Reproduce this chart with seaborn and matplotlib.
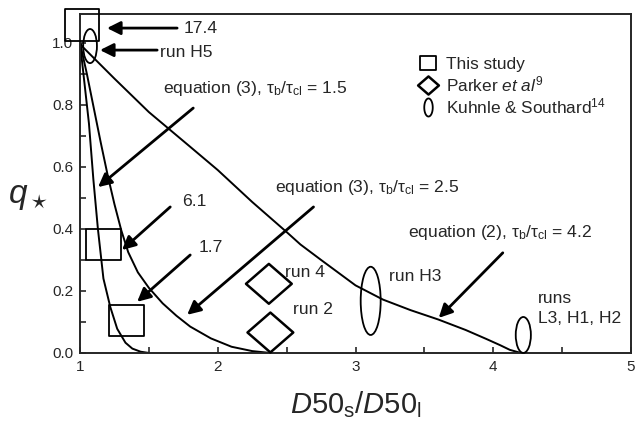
import matplotlib.pyplot as plt
import numpy as np
import pandas as pd
import seaborn as sns
from matplotlib.lines import Line2D
from matplotlib.markers import MarkerStyle
from matplotlib.patches import Ellipse
from matplotlib.path import Path
from matplotlib.ticker import MultipleLocator

# Curves
eq2_x = [1.0, 1.02, 1.25, 1.5, 1.8, 2.0, 2.25, 2.5, 2.6, 2.75, 3.0, 3.2, 3.4, 3.6, 3.8, 3.95, 4.05, 4.12, 4.2]
eq2_q = [1.0, 0.987, 0.885, 0.777, 0.665, 0.59, 0.487, 0.39, 0.35, 0.30, 0.218, 0.172, 0.138, 0.108, 0.074, 0.045, 0.025, 0.01, 0.0]

eq3a_x = [1.0, 1.03, 1.065, 1.097, 1.13, 1.17, 1.22, 1.27, 1.33, 1.38, 1.44, 1.5]
eq3a_q = [1.0, 0.88, 0.74, 0.56, 0.40, 0.24, 0.148, 0.078, 0.033, 0.014, 0.004, 0.0]

eq3b_x = [1.0, 1.05, 1.1, 1.15, 1.2, 1.25, 1.3, 1.35, 1.42, 1.5, 1.6, 1.7, 1.8, 1.95, 2.1, 2.25, 2.38]
eq3b_q = [1.0, 0.9, 0.79, 0.68, 0.575, 0.48, 0.395, 0.325, 0.26, 0.21, 0.16, 0.12, 0.085, 0.047, 0.02, 0.006, 0.0]

# Data points
study_x = [1.015, 1.171, 1.338]
study_q = [1.058, 0.35, 0.105]
parker_x = [2.371, 2.382]
parker_q = [0.223, 0.066]
ks_x = [1.073, 3.11, 4.218]
ks_q = [0.99, 0.168, 0.058]
ks_w = [0.10, 0.145, 0.11]
ks_h = [0.11, 0.22, 0.116]

# Labels and arrows
label_text = ["17.4", "run H5", "equation (3), τ$_\\mathrm{b}$/τ$_\\mathrm{cl}$ = 1.5",
              "equation (3), τ$_\\mathrm{b}$/τ$_\\mathrm{cl}$ = 2.5", "6.1", "1.7",
              "equation (2), τ$_\\mathrm{b}$/τ$_\\mathrm{cl}$ = 4.2", "run 4", "run 2", "run H3",
              "runs", "L3, H1, H2"]
label_x = [1.749, 1.582, 1.604, 2.418, 1.742, 1.858, 3.378, 2.491, 2.549, 3.24, 4.324, 4.324]
label_q = [1.048, 0.970, 0.852, 0.535, 0.487, 0.339, 0.387, 0.261, 0.139, 0.245, 0.177, 0.110]

arrow_tail_x = [1.705, 1.56, 1.822, 2.695, 1.655, 1.80, 4.069]
arrow_tail_q = [1.048, 0.977, 0.790, 0.471, 0.471, 0.316, 0.323]
arrow_head_x = [1.196, 1.145, 1.131, 1.778, 1.305, 1.415, 3.604]
arrow_head_q = [1.048, 0.977, 0.535, 0.123, 0.332, 0.165, 0.113]

sns.set_style("ticks")
plt.rcParams["font.family"] = ["Liberation Sans", "DejaVu Sans"]
plt.rcParams["mathtext.fontset"] = "custom"
plt.rcParams["mathtext.rm"] = "Liberation Sans"
plt.rcParams["mathtext.it"] = "Liberation Sans:italic"
plt.rcParams["mathtext.bf"] = "Liberation Sans:bold"

fig, ax = plt.subplots(figsize=(6.4, 4.32), dpi=100)
fig.subplots_adjust(left=0.125, right=0.986, bottom=0.183, top=0.968)

for cx, cq in [(eq2_x, eq2_q), (eq3a_x, eq3a_q), (eq3b_x, eq3b_q)]:
	sns.lineplot(x=cx, y=cq, sort=False, estimator=None, color="k", lw=1.4, ax=ax)

box = MarkerStyle(Path([(-1.1, -1), (1.1, -1), (1.1, 1), (-1.1, 1), (-1.1, -1)], closed=True))
diamond = MarkerStyle(Path([(-1.15, 0), (0, 1), (1.15, 0), (0, -1), (-1.15, 0)], closed=True))
t = np.linspace(0, 2 * np.pi, 60)
oval = MarkerStyle(Path(np.column_stack([0.47 * np.cos(t), np.sin(t)]), closed=True))

sns.scatterplot(x=study_x, y=study_q, marker=box, s=25 ** 2, facecolor="none", edgecolor="k",
                linewidth=1.3, clip_on=False, zorder=5, ax=ax)
sns.scatterplot(x=parker_x, y=parker_q, marker=diamond, s=33 ** 2, facecolor="none", edgecolor="k",
                linewidth=1.8, clip_on=False, zorder=5, ax=ax)
for ex, eq, ew, eh in zip(ks_x, ks_q, ks_w, ks_h):
	ax.add_patch(Ellipse((ex, eq), ew, eh, fill=False, lw=1.3, ec="k", clip_on=False, zorder=5))

for tx, tq, hx, hq in zip(arrow_tail_x, arrow_tail_q, arrow_head_x, arrow_head_q):
	ax.annotate("", xy=(hx, hq), xytext=(tx, tq),
	            arrowprops=dict(arrowstyle="-|>", mutation_scale=20, lw=2, color="k", shrinkA=0, shrinkB=0))
for txt, lx, lq in zip(label_text, label_x, label_q):
	ax.text(lx, lq, txt, fontsize=12.6, ha="left", va="center")

handles = [
	Line2D([], [], ls="none", marker=box, ms=11, mfc="none", mec="k", mew=1.3),
	Line2D([], [], ls="none", marker=diamond, ms=15, mfc="none", mec="k", mew=1.8),
	Line2D([], [], ls="none", marker=oval, ms=13, mfc="none", mec="k", mew=1.3),
]
labels = ["This study", "Parker $\\mathit{et\\ al}^{9}$", "Kuhnle & Southard$^{14}$"]
ax.legend(handles, labels, loc="upper left", bbox_to_anchor=(0.613, 0.872), frameon=False, fontsize=12.4,
          handlelength=1.2, handletextpad=0.45, borderpad=0, borderaxespad=0, labelspacing=0.12)

ax.set_xlim(1, 5)
ax.set_ylim(0, 1.094)
ax.xaxis.set_major_locator(MultipleLocator(1))
ax.xaxis.set_minor_locator(MultipleLocator(0.5))
ax.yaxis.set_major_locator(MultipleLocator(0.2))
ax.yaxis.set_minor_locator(MultipleLocator(0.1))
ax.set_yticks([0, 0.2, 0.4, 0.6, 0.8, 1.0])
ax.set_yticklabels(["0.0", "0.2", "0.4", "0.6", "0.8", "1.0"])
ax.tick_params(which="both", direction="in", length=4, width=1.2, labelsize=11, pad=5)
for s in ax.spines.values():
	s.set_linewidth(1.4)

ax.set_xlabel("$D50_\\mathrm{s}/D50_\\mathrm{l}$", fontsize=21, labelpad=11)
ax.set_ylabel("$q_\\star$", fontsize=24, rotation=0, ha="center", va="center")
ax.yaxis.set_label_coords(-0.094, 0.46)

plt.savefig("out.png", dpi=100)
plt.close()
